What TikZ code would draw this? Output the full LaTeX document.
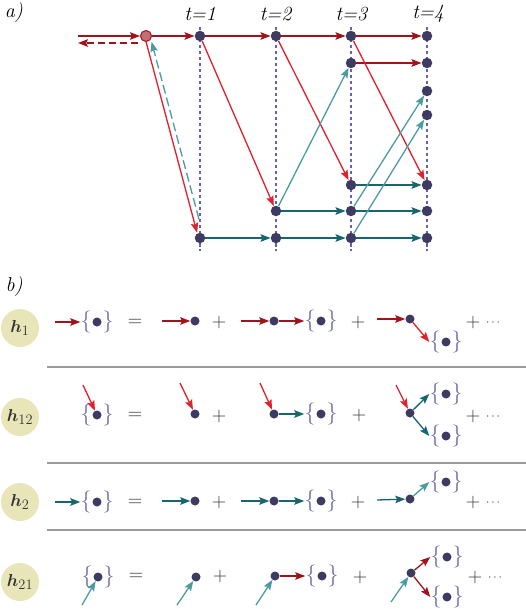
\documentclass[tikz,border=0pt]{standalone}
\usepackage{bm}
\usetikzlibrary{arrows.meta}
\definecolor{dred}{HTML}{A0131B}
\definecolor{bred}{HTML}{E0202C}
\definecolor{dteal}{HTML}{17666E}
\definecolor{lteal}{HTML}{4A9CA2}
\definecolor{navy}{HTML}{3E3B63}
\definecolor{vcol}{HTML}{6464AE}
\definecolor{brc}{HTML}{6C6CA8}
\definecolor{olive}{HTML}{E8E5B8}
\definecolor{srcfill}{HTML}{C66E76}
\definecolor{sepcol}{HTML}{9A9A9A}
\definecolor{txtc}{HTML}{333333}
\newcommand\bracegrp[3]{%
  \node[dotB] (#1) at (#2,#3) {};
  \node[lbr] (#1l) at ([xshift=-11pt]#1) {\{};
  \node[lbr] (#1r) at ([xshift=11pt]#1) {\}};}
\begin{document}
\begin{tikzpicture}[x=1pt,y=-1pt,
  tipA/.style={-{Stealth[length=10pt,width=7.5pt,inset=1.8pt]}},
  dredA/.style={draw=dred,line width=1.3pt,tipA},
  bredA/.style={draw=bred,line width=1.3pt,tipA},
  dtealA/.style={draw=dteal,line width=1.3pt,tipA},
  ltealA/.style={draw=lteal,line width=1.3pt,tipA},
  dotA/.style={circle,fill=navy,minimum size=10.5pt,inner sep=0pt},
  dotB/.style={circle,fill=navy,minimum size=9pt,inner sep=0pt},
  srcnode/.style={circle,fill=srcfill,draw=dred,line width=1pt,minimum size=11pt,inner sep=0pt},
  lbr/.style={inner sep=0pt,text=brc,font=\fontsize{22}{26}\selectfont},
  vln/.style={draw=vcol,line width=1.1pt,dash pattern=on 3.5pt off 2.5pt},
  sepln/.style={draw=sepcol,line width=1.2pt},
  lbl/.style={inner sep=0pt,font=\fontsize{20}{24}\selectfont},
  eqs/.style={inner sep=0pt,text=txtc,font=\fontsize{20}{24}\selectfont},
  dotsl/.style={inner sep=0pt,text=txtc,font=\fontsize{13}{15}\selectfont},
  hcirc/.style={circle,fill=olive,minimum size=38pt,inner sep=0pt,text=txtc,font=\fontsize{19}{22}\selectfont}]
\useasboundingbox (0,0) rectangle (526,609);

% ---------- part a ----------
\node[lbl] (la) at (14,13) {\textit{a)}};
\node[lbl] (t1) at (200,14) {\textit{t=1}};
\node[lbl] (t2) at (276,14) {\textit{t=2}};
\node[lbl] (t3) at (352,14) {\textit{t=3}};
\node[lbl] (t4) at (428,14) {\textit{t=4}};

\foreach \xx in {200,276,351,427}{\draw[vln] (\xx,27) -- (\xx,251);}

\node[srcnode] (src) at (146,36) {};
\node[dotA] (c1r1) at (200,36) {};
\node[dotA] (c1r7) at (200,238) {};
\node[dotA] (c2r1) at (276,36) {};
\node[dotA] (c2r6) at (276,211) {};
\node[dotA] (c2r7) at (276,238) {};
\node[dotA] (c3r1) at (351,36) {};
\node[dotA] (c3r2) at (351,63) {};
\node[dotA] (c3r5) at (351,185) {};
\node[dotA] (c3r6) at (351,211) {};
\node[dotA] (c3r7) at (351,238) {};
\node[dotA] (c4r1) at (427,36) {};
\node[dotA] (c4r2) at (427,63) {};
\node[dotA] (c4r3) at (427,91) {};
\node[dotA] (c4r4) at (427,115) {};
\node[dotA] (c4r5) at (427,185) {};
\node[dotA] (c4r6) at (427,211) {};
\node[dotA] (c4r7) at (427,238) {};

\coordinate (inL) at (78,36);
\coordinate (outR) at (138,43);
\coordinate (outL) at (78,43);
\draw[dredA] (inL) -- (src);
\draw[dredA,dash pattern=on 7pt off 4pt] (outR) -- (outL);
\draw[dredA] (src) -- (c1r1);
\draw[dredA] (c1r1) -- (c2r1);
\draw[dredA] (c2r1) -- (c3r1);
\draw[dredA] (c3r1) -- (c4r1);
\draw[dredA] (c3r2) -- (c4r2);

\draw[bredA,transform canvas={xshift=-1.5pt}] (src) -- (c1r7);
\draw[ltealA,dash pattern=on 9pt off 4pt,shorten <=14pt,transform canvas={xshift=4pt}] (c1r7) -- (src);
\draw[bredA] (c1r1) -- (c2r6);
\draw[bredA] (c2r1) -- (c3r5);
\draw[bredA] (c3r1) -- (c4r5);

\draw[dtealA] (c1r7) -- (c2r7);
\draw[dtealA] (c2r7) -- (c3r7);
\draw[dtealA] (c3r7) -- (c4r7);
\draw[dtealA] (c2r6) -- (c3r6);
\draw[dtealA] (c3r6) -- (c4r6);
\draw[dtealA] (c3r5) -- (c4r5);

\draw[ltealA] (c2r6) -- (c3r2);
\draw[ltealA] (c3r6) -- (c4r3);
\draw[ltealA] (c3r7) -- (c4r4);

% ---------- part b ----------
\node[lbl] (lb) at (14,287) {\textit{b)}};
\draw[sepln] (47,367) -- (526,367);
\draw[sepln] (47,463) -- (526,463);
\draw[sepln] (47,530) -- (526,530);

% row h1
\node[hcirc] (h1) at (20,328) {$\bm{h}_{1}$};
\coordinate (a1s) at (55,322);
\bracegrp{g1a}{97}{322}
\draw[dredA] (a1s) -- (g1al.west);
\node[eqs] (e1) at (135,323) {=};
\coordinate (a1t) at (162,321);
\node[dotB] (d1b) at (195,321) {};
\draw[dredA] (a1t) -- (d1b);
\node[eqs] (p1a) at (219,323) {+};
\coordinate (a1u) at (241,321);
\node[dotB] (d1c) at (274,321) {};
\bracegrp{g1c}{321}{321}
\draw[dredA] (a1u) -- (d1c);
\draw[dredA] (d1c) -- (g1cl.west);
\node[eqs] (p1b) at (358,323) {+};
\coordinate (a1v) at (377,319);
\node[dotB] (d1d) at (410,319) {};
\bracegrp{g1d}{446}{342}
\draw[dredA] (a1v) -- (d1d);
\draw[bredA] (d1d) -- (g1dl.west);
\node[eqs] (p1c) at (473,323) {+};
\node[dotsl] (k1) at (493,323) {$\cdots$};

% row h12
\node[hcirc] (h12) at (20,417) {$\bm{h}_{12}$};
\coordinate (a2s) at (83,385);
\bracegrp{g2a}{97}{415}
\draw[bredA] (a2s) -- (g2a);
\node[eqs] (e2) at (135,416) {=};
\coordinate (a2t) at (180,383);
\node[dotB] (d2b) at (195,414) {};
\draw[bredA] (a2t) -- (d2b);
\node[eqs] (p2a) at (219,417) {+};
\coordinate (a2u) at (260,383);
\node[dotB] (d2c) at (274,414) {};
\bracegrp{g2c}{321}{414}
\draw[bredA] (a2u) -- (d2c);
\draw[dtealA] (d2c) -- (g2cl.west);
\node[eqs] (p2b) at (359,416) {+};
\coordinate (a2v) at (396,385);
\node[dotB] (d2d) at (410,413) {};
\bracegrp{g2d}{446}{394}
\bracegrp{g2e}{446}{436}
\draw[bredA] (a2v) -- (d2d);
\draw[dtealA] (d2d) -- (g2dl.west);
\draw[dtealA] (d2d) -- (g2el.west);
\node[eqs] (p2c) at (473,417) {+};
\node[dotsl] (k2) at (493,417) {$\cdots$};

% row h2
\node[hcirc] (h2) at (20,502) {$\bm{h}_{2}$};
\coordinate (a3s) at (55,502);
\bracegrp{g3a}{97}{502}
\draw[dtealA] (a3s) -- (g3al.west);
\node[eqs] (e3) at (135,503) {=};
\coordinate (a3t) at (162,501);
\node[dotB] (d3b) at (195,501) {};
\draw[dtealA] (a3t) -- (d3b);
\node[eqs] (p3a) at (219,503) {+};
\coordinate (a3u) at (241,501);
\node[dotB] (d3c) at (274,501) {};
\bracegrp{g3c}{321}{501}
\draw[dtealA] (a3u) -- (d3c);
\draw[dtealA] (d3c) -- (g3cl.west);
\node[eqs] (p3b) at (358,503) {+};
\coordinate (a3v) at (377,500);
\node[dotB] (d3d) at (410,499) {};
\bracegrp{g3d}{446}{482}
\draw[dtealA] (a3v) -- (d3d);
\draw[ltealA] (d3d) -- (g3dl.west);
\node[eqs] (p3c) at (473,503) {+};
\node[dotsl] (k3) at (493,503) {$\cdots$};

% row h21
\node[hcirc] (h21) at (20,582) {$\bm{h}_{21}$};
\coordinate (a4s) at (82,605);
\bracegrp{g4a}{98}{577}
\draw[ltealA] (a4s) -- (g4a);
\node[eqs] (e4) at (136,577) {=};
\coordinate (a4t) at (177,605);
\node[dotB] (d4b) at (196,577) {};
\draw[ltealA] (a4t) -- (d4b);
\node[eqs] (p4a) at (220,577) {+};
\coordinate (a4u) at (256,605);
\node[dotB] (d4c) at (275,576) {};
\bracegrp{g4c}{322}{576}
\draw[ltealA] (a4u) -- (d4c);
\draw[dredA] (d4c) -- (g4cl.west);
\node[eqs] (p4b) at (360,578) {+};
\coordinate (a4v) at (391,602);
\node[dotB] (d4d) at (411,573) {};
\bracegrp{g4d}{447}{557}
\bracegrp{g4e}{447}{597}
\draw[ltealA] (a4v) -- (d4d);
\draw[dredA] (d4d) -- (g4dl.west);
\draw[dredA] (d4d) -- (g4el.west);
\node[eqs] (p4c) at (475,578) {+};
\node[dotsl] (k4) at (495,578) {$\cdots$};
\end{tikzpicture}
\end{document}
